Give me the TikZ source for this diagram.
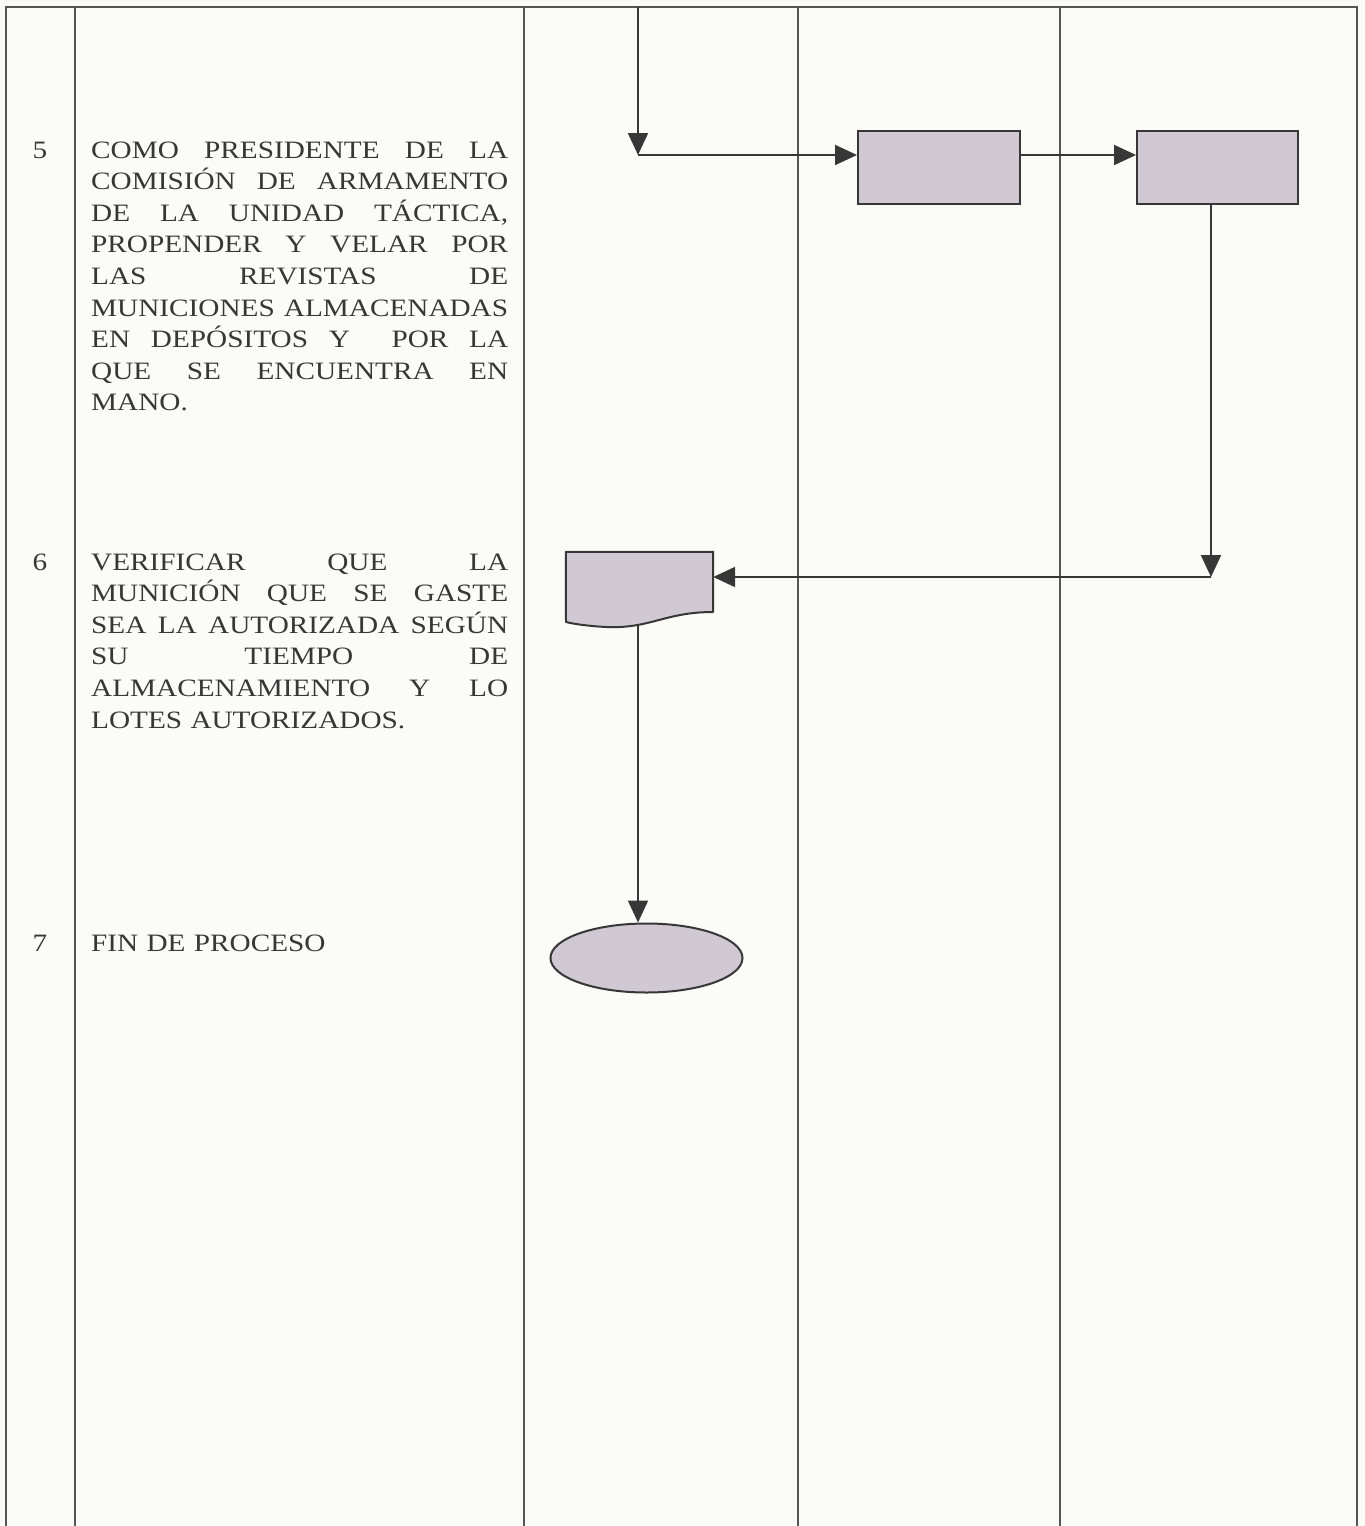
\documentclass[tikz,border=0pt]{standalone}
\usepackage{fontspec}
\setmainfont[FakeStretch=1.17]{Liberation Serif}
\usetikzlibrary{arrows.meta, positioning, shapes.geometric}
\definecolor{paper}{RGB}{251,252,248}
\definecolor{ink}{RGB}{55,55,55}
\definecolor{shapefill}{RGB}{208,201,211}
\newcommand{\jl}[1]{\makebox[417pt][l]{#1}}
\tikzset{
  x=1pt, y=-1pt,
  grid/.style={draw=ink!85, line width=1.4pt},
  txt/.style={anchor=base west, inner sep=0pt, text width=417pt,
    font=\fontsize{25}{31.6}\selectfont, text=ink},
  num/.style={anchor=base, inner sep=0pt, font=\fontsize{25}{31.6}\selectfont, text=ink},
  box/.style={rectangle, draw=ink, fill=shapefill, line width=2pt, inner sep=0pt},
  endbox/.style={ellipse, draw=ink, fill=shapefill, line width=2pt, inner sep=0pt},
  line/.style={draw=ink, line width=2pt, -{Triangle[length=22pt,width=20pt]}}
}
\begin{document}
\begin{tikzpicture}
\useasboundingbox (0,0) rectangle (1365,1526);
\fill[paper] (0,0) rectangle (1365,1526);
% table
\draw[grid] (6,1526) -- (6,7) -- (1357,7) -- (1357,1526);
\foreach \cx in {75,524,798,1060}
  \draw[grid] (\cx,7) -- (\cx,1526);
% step texts
\node[num] (n5) at (40,158) {5};
\node[txt] (t5) at (91,158) {\jl{COMO\hfill PRESIDENTE\hfill DE\hfill LA}\\
  \jl{COMISIÓN\hfill DE\hfill ARMAMENTO}\\
  \jl{DE\hfill LA\hfill UNIDAD\hfill TÁCTICA,}\\
  \jl{PROPENDER\hfill Y\hfill VELAR\hfill POR}\\
  \jl{LAS\hfill REVISTAS\hfill DE}\\
  \jl{MUNICIONES\hfill ALMACENADAS}\\
  \jl{EN\hfill DEPÓSITOS\hfill Y\hfill\hfill POR\hfill LA}\\
  \jl{QUE\hfill SE\hfill ENCUENTRA\hfill EN}\\
  MANO.};
\node[num] (n6) at (40,570) {6};
\node[txt] (t6) at (91,570) {\jl{VERIFICAR\hfill QUE\hfill LA}\\
  \jl{MUNICIÓN\hfill QUE\hfill SE\hfill GASTE}\\
  \jl{SEA\hfill LA\hfill AUTORIZADA\hfill SEGÚN}\\
  \jl{SU\hfill TIEMPO\hfill DE}\\
  \jl{ALMACENAMIENTO\hfill Y\hfill LO}\\
  LOTES AUTORIZADOS.};
\node[num] (n7) at (40,951) {7};
\node[txt] (t7) at (91,951) {FIN DE PROCESO};
% shapes
\node[box, minimum width=162pt, minimum height=73pt] (b1) at (939,167) {};
\node[box, minimum width=161pt, minimum height=73pt] (b2) at (1217.5,167) {};
\node[minimum width=147pt, minimum height=70pt, inner sep=0pt] (doc) at (639.5,587) {};
\filldraw[draw=ink, fill=shapefill, line width=2pt, line join=round]
  (doc.north west) -- (doc.north east) -- (713,612)
  .. controls (665,612) and (650,629) .. (606,627)
  .. controls (588,626) and (574,624) .. (566,622) -- cycle;
\node[endbox, minimum width=192pt, minimum height=69pt] (fin) at (646.5,958) {};
% connectors
\coordinate (c0) at (638,7);
\coordinate (c1) at (638,155);
\coordinate (c2) at (1211,577);
\draw[line] (c0) -- (c1);
\draw[line] (c1) -- (c1 -| b1.west);
\draw[line] (c1 -| b1.east) -- (c1 -| b2.west);
\draw[line] (c2 |- b2.south) -- (c2);
\draw[line] (c2) -- (c2 -| doc.east);
\draw[line] (c1 |- 0,626) -- (c1 |- fin.north);
\end{tikzpicture}
\end{document}
